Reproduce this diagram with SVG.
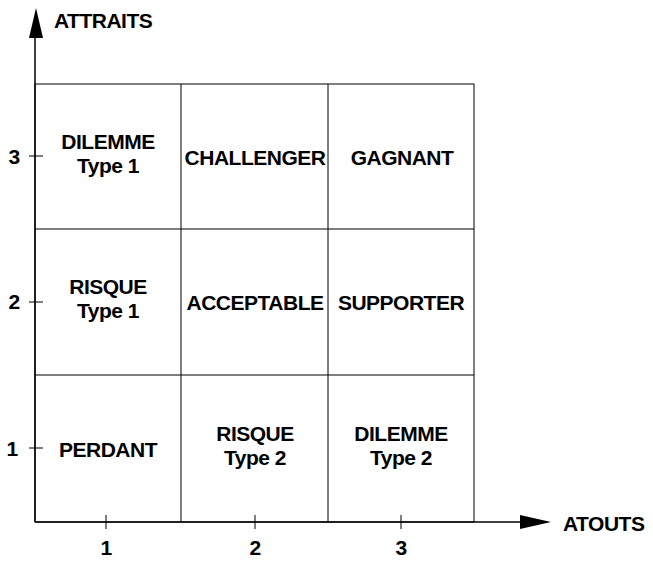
<svg xmlns="http://www.w3.org/2000/svg" width="653" height="561" viewBox="0 0 653 561">
<style>
text{font-family:"Liberation Sans",Arial,sans-serif;font-weight:bold;font-size:21px;letter-spacing:-0.5px;fill:#000}
.c{text-anchor:middle}
.g{stroke:#000;stroke-width:1;fill:none}
.ax{stroke:#000;stroke-width:1.5;fill:none}
</style>
<rect width="653" height="561" fill="#fff"/>
<g id="grid">
<rect class="g" x="35" y="84" width="439" height="438"/>
<line class="g" x1="181" y1="84" x2="181" y2="522"/>
<line class="g" x1="328" y1="84" x2="328" y2="522"/>
<line class="g" x1="35" y1="229" x2="474" y2="229"/>
<line class="g" x1="35" y1="375" x2="474" y2="375"/>
</g>
<g id="connectors">
<line class="ax" x1="35" y1="522" x2="35" y2="36"/>
<path d="M36,8 L43,38 L29,38 Z" fill="#000"/>
<line class="ax" x1="35" y1="522" x2="522" y2="522"/>
<path d="M551,522 L520,515 L520,529 Z" fill="#000"/>
<line class="g" x1="29" y1="156" x2="43" y2="156"/>
<line class="g" x1="29" y1="302" x2="43" y2="302"/>
<line class="g" x1="29" y1="448" x2="43" y2="448"/>
<line class="g" x1="106" y1="515" x2="106" y2="529"/>
<line class="g" x1="255" y1="515" x2="255" y2="529"/>
<line class="g" x1="401" y1="515" x2="401" y2="529"/>
</g>
<g id="axis-labels">
<text x="54" y="28">ATTRAITS</text>
<text x="563" y="531">ATOUTS</text>
<text class="c" x="14" y="164">3</text>
<text class="c" x="14" y="309">2</text>
<text class="c" x="12" y="456">1</text>
<text class="c" x="106" y="555">1</text>
<text class="c" x="255" y="555">2</text>
<text class="c" x="401" y="555">3</text>
</g>
<g id="n-dilemme1"><text class="c" x="108" y="149">DILEMME</text><text class="c" x="108" y="173">Type 1</text></g>
<g id="n-challenger"><text class="c" x="255" y="165">CHALLENGER</text></g>
<g id="n-gagnant"><text class="c" x="402" y="165">GAGNANT</text></g>
<g id="n-risque1"><text class="c" x="108" y="294">RISQUE</text><text class="c" x="108" y="318">Type 1</text></g>
<g id="n-acceptable"><text class="c" x="255" y="310">ACCEPTABLE</text></g>
<g id="n-supporter"><text class="c" x="401" y="310">SUPPORTER</text></g>
<g id="n-perdant"><text class="c" x="108" y="457">PERDANT</text></g>
<g id="n-risque2"><text class="c" x="255" y="441">RISQUE</text><text class="c" x="255" y="465">Type 2</text></g>
<g id="n-dilemme2"><text class="c" x="401" y="441">DILEMME</text><text class="c" x="401" y="465">Type 2</text></g>
</svg>
